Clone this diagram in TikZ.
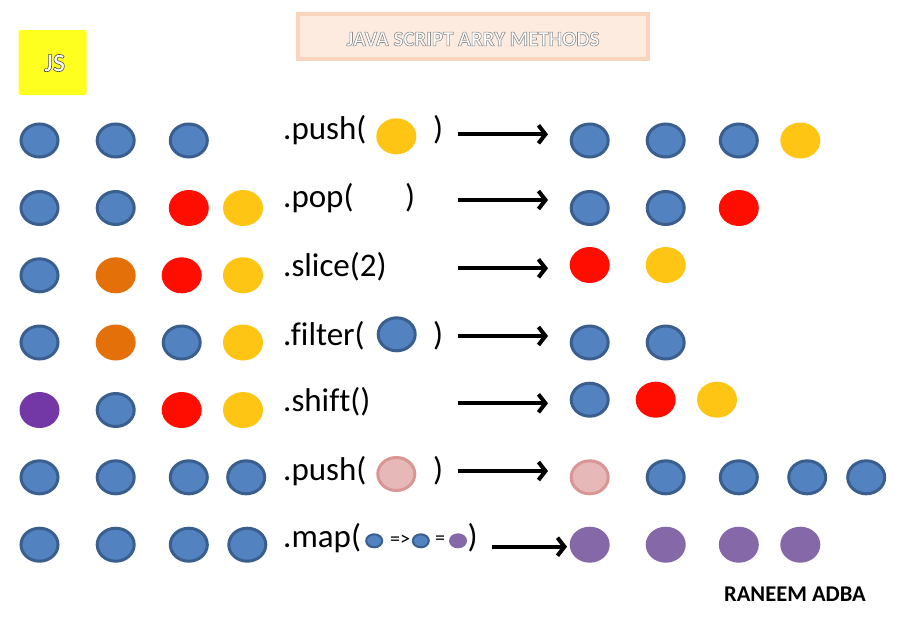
\documentclass[tikz,border=0pt]{standalone}
\usepackage{fontspec}
\setmainfont[Ligatures={NoCommon}]{Carlito}
\usetikzlibrary{arrows.meta,shapes.geometric}
\definecolor{blueF}{HTML}{5282C0}
\definecolor{blueD}{HTML}{3A5F8E}
\definecolor{goldc}{HTML}{FFC514}
\definecolor{redc}{HTML}{FF0D00}
\definecolor{orangec}{HTML}{E4700A}
\definecolor{purpleD}{HTML}{7437A6}
\definecolor{purpleM}{HTML}{8468A8}
\definecolor{pinkF}{HTML}{E6B9B8}
\definecolor{pinkD}{HTML}{D99694}
\definecolor{peachD}{HTML}{F9D5BE}
\definecolor{peachL}{HTML}{FDEBE0}
\definecolor{jsyellow}{HTML}{FFFF1F}
\newcommand{\outlinedtext}[3]{\special{pdf:literal direct 1 g #1 G #2 w 2 Tr}#3\special{pdf:literal direct 0 Tr}}
\begin{document}
\begin{tikzpicture}[x=1pt,y=-1pt,
  ball/.style={ellipse,inner sep=0pt,outer sep=0pt,minimum width=40pt,minimum height=36pt},
  bb/.style={ellipse,inner sep=0pt,outer sep=0pt,fill=blueF,draw=blueD,line width=3pt,minimum width=37pt,minimum height=33pt},
  yb/.style={ball,fill=goldc},
  rb/.style={ball,fill=redc},
  ob/.style={ball,fill=orangec},
  pdb/.style={ball,fill=purpleD},
  pmb/.style={ball,fill=purpleM},
  pkb/.style={ellipse,inner sep=0pt,outer sep=0pt,fill=pinkF,draw=pinkD,line width=3pt,minimum width=37pt,minimum height=33pt},
  sbb/.style={ellipse,inner sep=0pt,outer sep=0pt,fill=blueF,draw=blueD,line width=2pt,minimum width=16pt,minimum height=13pt},
  spb/.style={ellipse,inner sep=0pt,outer sep=0pt,fill=purpleM,minimum width=18pt,minimum height=15pt},
  mtext/.style={inner sep=0pt,anchor=base west,font=\fontsize{33}{38}\selectfont},
  arr/.style={line width=4pt,-{Straight Barb[length=7pt,width=18pt]}},
]
\useasboundingbox (0,0) rectangle (904,616);
\fill[white] (0,0) rectangle (904,616);

% title
\draw[draw=peachD,fill=peachL,line width=4pt] (298,14) rectangle (648,59);
\node[text=white,font=\bfseries\fontsize{21}{24}\selectfont] (title) at (473,39) {\outlinedtext{0.55}{0.6}{JAVA SCRIPT ARRY METHODS}};

% JS box
\fill[jsyellow,rounded corners=2pt] (18.5,30) rectangle (86.5,95);
\node[text=white,font=\bfseries\fontsize{26}{30}\selectfont] (js) at (54.7,63) {\outlinedtext{0.3}{0.6}{JS}};

% row 1
\node[bb] (l11) at (39.5,140.5) {};
\node[bb] (l12) at (115.7,140.5) {};
\node[bb] (l13) at (188.8,140.5) {};
\node[mtext] (t1) at (283,139.5) {.push(};
\node[yb] (a1) at (396.3,136.3) {};
\node[mtext] (c1) at (433,139.5) {)};
\coordinate (s1) at (458,134.3); \coordinate (e1) at (548,134.3);
\draw[arr] (s1) -- (e1);
\node[bb] (r11) at (589.7,140.5) {};
\node[bb] (r12) at (665.7,140.5) {};
\node[bb] (r13) at (738.8,140.5) {};
\node[yb] (r14) at (800.3,140.5) {};

% row 2
\node[bb] (l21) at (39.5,208) {};
\node[bb] (l22) at (115.7,208) {};
\node[rb] (l23) at (188.8,208) {};
\node[yb] (l24) at (243,208) {};
\node[mtext] (t2) at (283,207) {.pop(};
\node[mtext] (c2) at (405,207) {)};
\coordinate (s2) at (458,200); \coordinate (e2) at (548,200);
\draw[arr] (s2) -- (e2);
\node[bb] (r21) at (589.7,208) {};
\node[bb] (r22) at (665.7,208) {};
\node[rb] (r23) at (738.8,208) {};

% row 3
\node[bb] (l31) at (39.5,275.3) {};
\node[ob] (l32) at (115.7,275.3) {};
\node[rb] (l33) at (181.7,275.3) {};
\node[yb] (l34) at (243,275.3) {};
\node[mtext] (t3) at (283,276.7) {.slice(2)};
\coordinate (s3) at (458,268.3); \coordinate (e3) at (548,268.3);
\draw[arr] (s3) -- (e3);
\node[rb] (r31) at (589.7,265) {};
\node[yb] (r32) at (665.7,265) {};

% row 4
\node[bb] (l41) at (39.5,342.5) {};
\node[ob] (l42) at (115.7,342.5) {};
\node[bb] (l43) at (181.7,342.5) {};
\node[yb] (l44) at (243,342.5) {};
\node[mtext] (t4) at (283,345) {.filter(};
\node[bb] (a4) at (396.7,334.3) {};
\node[mtext] (c4) at (433,345) {)};
\coordinate (s4) at (458,336); \coordinate (e4) at (548,336);
\draw[arr] (s4) -- (e4);
\node[bb] (r41) at (589.7,342.5) {};
\node[bb] (r42) at (665.7,342.5) {};

% row 5
\node[pdb] (l51) at (39.5,410) {};
\node[bb] (l52) at (115.7,410) {};
\node[rb] (l53) at (181.7,410) {};
\node[yb] (l54) at (243,410) {};
\node[mtext] (t5) at (283,411.7) {.shift()};
\coordinate (s5) at (458,403.3); \coordinate (e5) at (548,403.3);
\draw[arr] (s5) -- (e5);
\node[bb] (r51) at (589.7,399.7) {};
\node[rb] (r52) at (655.7,399.7) {};
\node[yb] (r53) at (717,399.7) {};

% row 6
\node[bb] (l61) at (39.5,477.3) {};
\node[bb] (l62) at (115.7,477.3) {};
\node[bb] (l63) at (188.8,477.3) {};
\node[bb] (l64) at (246.2,477.3) {};
\node[mtext] (t6) at (283,480) {.push(};
\node[pkb] (a6) at (396.3,474) {};
\node[mtext] (c6) at (433,480) {)};
\coordinate (s6) at (458,471); \coordinate (e6) at (548,471);
\draw[arr] (s6) -- (e6);
\node[pkb] (r61) at (589.7,477.3) {};
\node[bb] (r62) at (665.7,477.3) {};
\node[bb] (r63) at (738.8,477.3) {};
\node[bb] (r64) at (807.2,477.3) {};
\node[bb] (r65) at (866.2,477.3) {};

% row 7
\node[bb] (l71) at (39.5,544.7) {};
\node[bb] (l72) at (115.7,544.7) {};
\node[bb] (l73) at (188.8,544.7) {};
\node[bb] (l74) at (247.3,544.7) {};
\node[mtext] (t7) at (283,547.5) {.map(};
\node[sbb] (m1) at (374.2,540.8) {};
\node[inner sep=0pt,font=\fontsize{20}{22}\selectfont] (m2) at (400,540) {=>};
\node[sbb] (m3) at (420.8,540.8) {};
\node[inner sep=0pt,font=\fontsize{20}{22}\selectfont] (m4) at (440,540) {=};
\node[spb] (m5) at (458,540.8) {};
\node[mtext] (c7) at (467.5,547.5) {)};
\coordinate (s7) at (491.7,546.7); \coordinate (e7) at (567,546.7);
\draw[arr] (s7) -- (e7);
\node[pmb] (r71) at (589.7,544.7) {};
\node[pmb] (r72) at (665.7,544.7) {};
\node[pmb] (r73) at (738.8,544.7) {};
\node[pmb] (r74) at (800.3,544.7) {};

% author
\node[font=\bfseries\fontsize{22.5}{26}\selectfont] (author) at (795,594.5) {RANEEM ADBA};
\end{tikzpicture}
\end{document}
